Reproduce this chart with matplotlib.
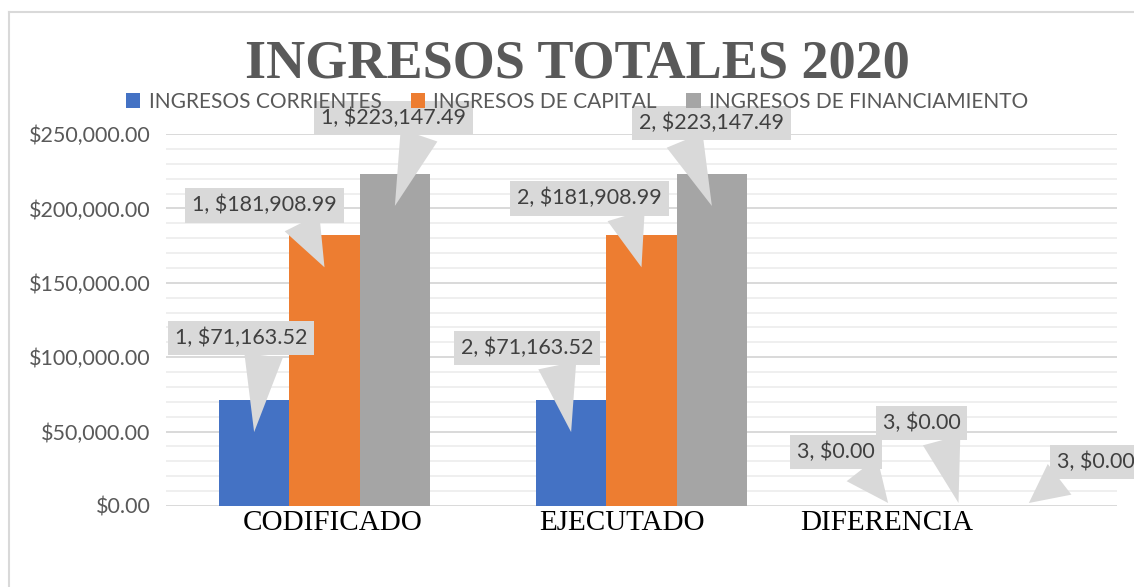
import matplotlib
matplotlib.use("Agg")
import matplotlib.pyplot as plt
import numpy as np
from matplotlib.lines import Line2D
from matplotlib.patches import Patch
from matplotlib.ticker import FuncFormatter, MultipleLocator
from matplotlib.transforms import ScaledTranslation

categories = ["CODIFICADO", "EJECUTADO", "DIFERENCIA"]
series_names = ["INGRESOS CORRIENTES", "INGRESOS DE CAPITAL", "INGRESOS DE FINANCIAMIENTO"]
corrientes = [71163.52, 71163.52, 0.00]
capital = [181908.99, 181908.99, 0.00]
financiamiento = [223147.49, 223147.49, 0.00]
series_values = [corrientes, capital, financiamiento]
colors = ["#4472c4", "#ed7d31", "#a5a5a5"]

# callout placement (pixels, relative to the bar top) as dragged in the original
label_offsets = [
    [(-13, 62), (-44, 52), (-52, 54)],
    [(-60, 30), (-52, 37), (-37, 83)],
    [(-1, 56), (0, 51), (67, 44)],
]
wedge_relx = [
    [0.68, 0.71, 0.72],
    [0.72, 0.73, 0.72],
    [0.70, 0.28, 0.22],
]
cat_label_dx = [8, -19, -72]

W, H = 1134, 587
fig = plt.figure(figsize=(W / 100, H / 100), dpi=100)
ax = fig.add_axes([166 / W, 1 - 506 / H, (1117 - 166) / W, 372 / H])

x = np.arange(len(categories))
bw = 0.222
for i, vals in enumerate(series_values):
    ax.bar(x + (i - 1) * bw, vals, bw, color=colors[i], zorder=2)

ax.set_xlim(-0.5, 2.5)
ax.set_ylim(0, 250000)
ax.yaxis.set_major_locator(MultipleLocator(50000))
ax.yaxis.set_minor_locator(MultipleLocator(10000))
ax.yaxis.set_major_formatter(FuncFormatter(lambda v, p: f"${v:,.2f}"))
ax.grid(axis="y", which="major", color="#d9d9d9", lw=1.4, zorder=0)
ax.grid(axis="y", which="minor", color="#efefef", lw=1.4, zorder=0)
ax.set_axisbelow(True)
for s in ax.spines.values():
    s.set_visible(False)
ax.tick_params(axis="y", which="both", length=0, pad=11, labelsize=15.5,
               labelcolor="#595959")
for t in ax.get_yticklabels():
    t.set_fontfamily("Lato")
ax.set_xticks([])

# category labels
for i, c in enumerate(categories):
    ax.annotate(c, xy=(x[i], 0), xytext=(cat_label_dx[i] * 0.72, -3),
                textcoords="offset points", ha="center", va="top",
                fontsize=21, family="Liberation Serif", color="black")

# data callouts
for i, vals in enumerate(series_values):
    for j, v in enumerate(vals):
        bx = x[j] + (i - 1) * bw
        tip_dy = -32 if v > 0 else 3
        tip_tr = ax.transData + ScaledTranslation(0, tip_dy / 100, fig.dpi_scale_trans)
        dx, up = label_offsets[i][j]
        txt_tr = ax.transData + ScaledTranslation(dx / 100, up / 100, fig.dpi_scale_trans)
        ax.annotate(f"{j + 1}, ${v:,.2f}", xy=(bx, v), xycoords=tip_tr,
                    xytext=(bx, v), textcoords=txt_tr,
                    ha="center", va="center", fontsize=15.5, family="Lato",
                    color="#404040", annotation_clip=False, zorder=5,
                    bbox=dict(boxstyle="square,pad=0.33", fc="#d9d9d9", ec="none"),
                    arrowprops=dict(arrowstyle="wedge,tail_width=1.8",
                                    fc="#d9d9d9", ec="none", shrinkA=0, shrinkB=0,
                                    relpos=(wedge_relx[i][j], 0.2)))

fig.text(577 / W, 1 - 64 / H, "INGRESOS TOTALES 2020", ha="center", va="center",
         fontsize=39, fontweight="bold", family="Liberation Serif", color="#595959")

handles = [Patch(facecolor=c, edgecolor="none") for c in colors]
fig.legend(handles, series_names, loc="center", bbox_to_anchor=(577 / W, 1 - 102 / H),
           ncol=3, frameon=False, handlelength=0.7, handleheight=0.7,
           handletextpad=0.4, columnspacing=1.4, labelcolor="#595959",
           prop=dict(family="Lato", size=15), borderaxespad=0)

# chart border
fig.add_artist(Line2D([9 / W, 9 / W], [0, 1 - 12 / H], transform=fig.transFigure,
                      color="#d9d9d9", lw=1.5))
fig.add_artist(Line2D([9 / W, 1], [1 - 12 / H, 1 - 12 / H], transform=fig.transFigure,
                      color="#d9d9d9", lw=1.5))

fig.savefig("out.png", dpi=100)
